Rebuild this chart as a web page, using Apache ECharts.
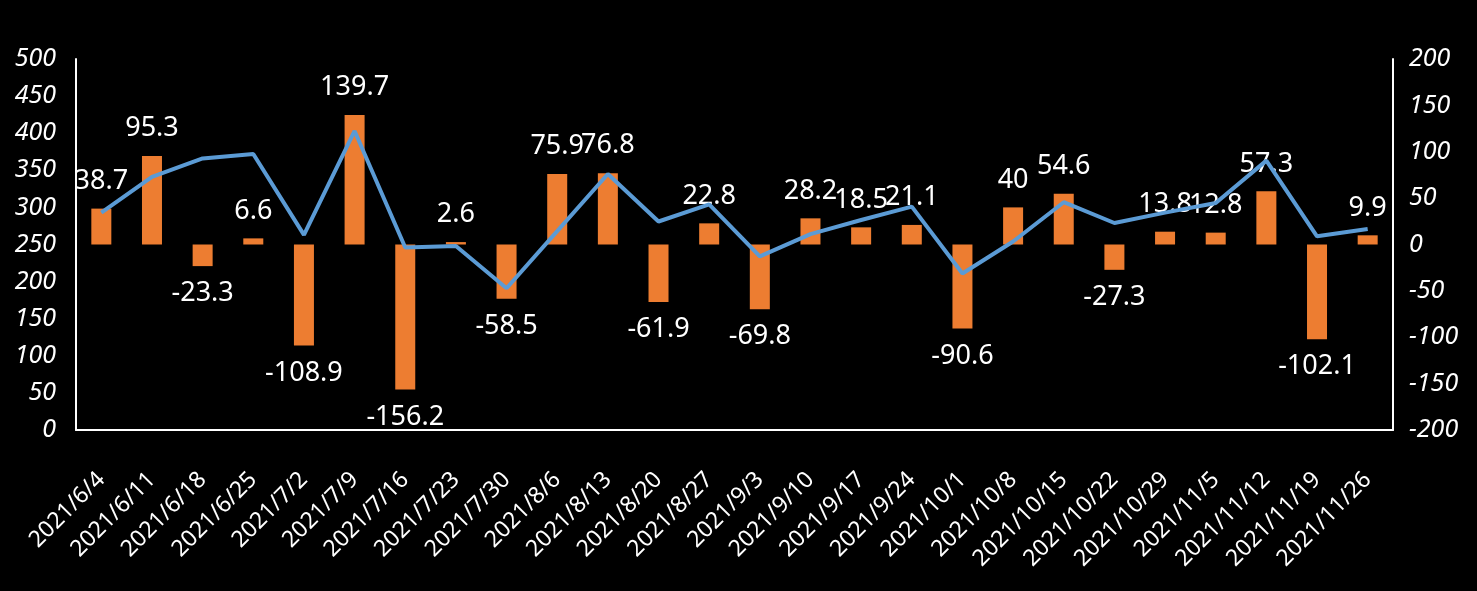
<!DOCTYPE html>
<html>
<head>
<meta charset="utf-8">
<script src="https://cdn.jsdelivr.net/npm/echarts@6/dist/echarts.min.js"></script>
<style>
html,body{margin:0;padding:0;background:#000;}
#c{width:1477px;height:591px;}
</style>
</head>
<body>
<div id="c"></div>
<script>
const categories = ['2021/6/4','2021/6/11','2021/6/18','2021/6/25','2021/7/2','2021/7/9','2021/7/16','2021/7/23','2021/7/30','2021/8/6','2021/8/13','2021/8/20','2021/8/27','2021/9/3','2021/9/10','2021/9/17','2021/9/24','2021/10/1','2021/10/8','2021/10/15','2021/10/22','2021/10/29','2021/11/5','2021/11/12','2021/11/19','2021/11/26'];
const barValues = [38.7, 95.3, -23.3, 6.6, -108.9, 139.7, -156.2, 2.6, -58.5, 75.9, 76.8, -61.9, 22.8, -69.8, 28.2, 18.5, 21.1, -90.6, 40, 54.6, -27.3, 13.8, 12.8, 57.3, -102.1, 9.9];
const lineValues = [293, 341, 366, 372, 263, 403, 246, 248, 191, 268, 345, 281, 304, 234, 264, 283, 301, 211, 254, 307, 279, 293, 306, 363, 261, 271];
const leftTicks = {min: 0, max: 500, interval: 50};
const rightTicks = {min: -200, max: 200, interval: 50};

const barData = barValues.map(v => ({
  value: v,
  label: {position: v >= 0 ? 'top' : 'bottom'}
}));

const chart = echarts.init(document.getElementById('c'));
const font = '"Noto Sans", "DejaVu Sans", sans-serif';
chart.setOption({
  backgroundColor: '#000',
  animation: false,
  grid: {left: 76, right: 84, top: 59, bottom: 161},
  xAxis: {
    type: 'category',
    data: categories,
    axisLine: {lineStyle: {color: '#fff', width: 2}},
    axisTick: {show: false},
    axisLabel: {
      color: '#fff', fontSize: 23, fontFamily: font,
      rotate: 45, margin: 46, interval: 0
    }
  },
  yAxis: [
    {
      type: 'value', position: 'left',
      min: leftTicks.min, max: leftTicks.max, interval: leftTicks.interval,
      axisLine: {show: true, lineStyle: {color: '#fff', width: 2}},
      axisTick: {show: false},
      splitLine: {show: false},
      axisLabel: {color: '#fff', fontSize: 25, fontStyle: 'italic', fontFamily: font, margin: 20}
    },
    {
      type: 'value', position: 'right',
      min: rightTicks.min, max: rightTicks.max, interval: rightTicks.interval,
      axisLine: {show: true, lineStyle: {color: '#fff', width: 2}},
      axisTick: {show: false},
      splitLine: {show: false},
      axisLabel: {color: '#fff', fontSize: 25, fontStyle: 'italic', fontFamily: font, margin: 16}
    }
  ],
  series: [
    {
      type: 'bar',
      yAxisIndex: 1,
      data: barData,
      barWidth: 20,
      itemStyle: {color: '#ED7D31'},
      label: {show: true, color: '#fff', fontSize: 27, fontFamily: font, distance: 14},
      z: 2
    },
    {
      type: 'line',
      yAxisIndex: 0,
      data: lineValues,
      showSymbol: false,
      symbol: 'none',
      lineStyle: {color: '#5B9BD5', width: 4},
      z: 3
    }
  ]
});
</script>
</body>
</html>
